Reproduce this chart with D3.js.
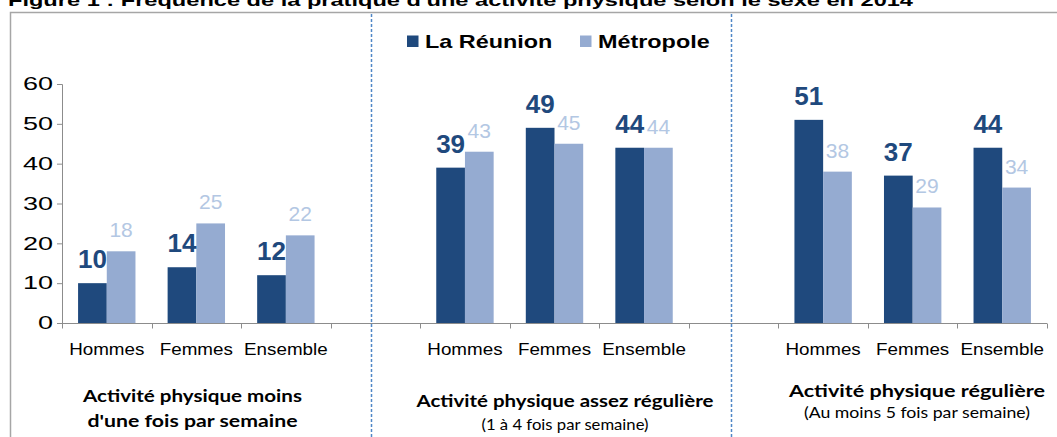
<!DOCTYPE html>
<html><head><meta charset="utf-8">
<script src="https://cdn.jsdelivr.net/npm/d3@7/dist/d3.min.js"></script>
<style>body{margin:0;background:#fff;overflow:hidden}</style>
</head><body><svg id="c" width="1057" height="437"></svg>
<script>
// ---- data ----
const titleText = "Figure 1 : Fréquence de la pratique d'une activité physique selon le sexe en 2014";
const subCategories = ["Hommes", "Femmes", "Ensemble"];
const seriesNames = ["La Réunion", "Métropole"];
const reunion   = [10, 14, 12, 39, 49, 44, 51, 37, 44];
const metropole = [18, 25, 22, 43, 45, 44, 38, 29, 34];
const yTicks = [0, 10, 20, 30, 40, 50, 60];
const groupTitles = [
  ["Activité physique moins", "d'une fois par semaine"],
  ["Activité physique assez régulière", "(1 à 4 fois par semaine)"],
  ["Activité physique  régulière", "(Au moins 5 fois par semaine)"]
];

// ---- style ----
const darkBar = "#1f497d", lightBar = "#95abd1", lightLabel = "#b3c7e3", axisCol = "#8c8c8c";
const svg = d3.select("#c");

function stretch(sel, k) {
  sel.each(function () {
    const w = this.getComputedTextLength();
    this.setAttribute("textLength", w * k);
    this.setAttribute("lengthAdjust", "spacingAndGlyphs");
  });
}
function fitWidth(sel, w) {
  sel.attr("textLength", w).attr("lengthAdjust", "spacingAndGlyphs");
}

// band domain: 3 groups of 3 categories, with an empty band between groups
const domain = [];
const rows = [];
groupTitles.forEach((g, gi) => {
  if (gi > 0) domain.push("gap" + gi);
  subCategories.forEach((s, si) => {
    const key = gi + "|" + s;
    domain.push(key);
    rows.push({key, label: s, r: reunion[gi * 3 + si], m: metropole[gi * 3 + si]});
  });
});

const x = d3.scaleBand().domain(domain).range([62, 1047]).paddingInner(0).paddingOuter(0);
const xs = d3.scaleBand().domain(seriesNames).range([0, x.bandwidth()]).paddingInner(0).paddingOuter(0.56);
const y = d3.scaleLinear().domain([0, 60]).range([323, 84]);

// title (cropped at the top, as in the source)
svg.append("text").attr("x", 8).attr("y", 6)
  .style("font", "bold 17px 'Liberation Sans', Arial, sans-serif").attr("fill", "#000")
  .text(titleText).call(fitWidth, 905);

// frame
svg.append("path").attr("d", "M10.5,437 V12.5 H1057").attr("fill", "none")
  .attr("stroke", "#a6a6a6").attr("stroke-width", 1.5);

// dashed separators
[371.5, 731.5].forEach(xx => {
  svg.append("line").attr("x1", xx).attr("x2", xx).attr("y1", 14).attr("y2", 437)
    .attr("stroke", "#4f86c6").attr("stroke-width", 1.5).attr("stroke-dasharray", "3,2");
});

// legend
const legend = svg.append("g");
const legendItems = [{name: seriesNames[0], c: darkBar, x: 407}, {name: seriesNames[1], c: lightBar, x: 580}];
legendItems.forEach(it => {
  legend.append("rect").attr("x", it.x).attr("y", 35.5).attr("width", 11.5).attr("height", 11.5).attr("fill", it.c);
  legend.append("text").attr("x", it.x + 18).attr("y", 48)
    .style("font", "bold 19px 'Liberation Sans', Arial, sans-serif").attr("fill", "#000")
    .text(it.name).call(stretch, 1.23);
});

// y axis
const yAxis = svg.append("g").attr("transform", "translate(62,0)")
  .call(d3.axisLeft(y).tickValues(yTicks).tickSize(5).tickPadding(4));
yAxis.select(".domain").attr("stroke", axisCol);
yAxis.selectAll(".tick line").attr("stroke", axisCol);
yAxis.selectAll("text").style("font", "18px 'Liberation Sans', Arial, sans-serif").attr("fill", "#000")
  .call(stretch, 1.5);

// x axis line + ticks at band boundaries
svg.append("line").attr("x1", 62).attr("x2", 1047).attr("y1", 323.5).attr("y2", 323.5).attr("stroke", axisCol);
const bounds = domain.map(d => x(d)).concat([x.range()[1]]);
svg.selectAll(".xt").data(bounds).join("line").attr("class", "xt")
  .attr("x1", d => Math.round(d) + 0.5).attr("x2", d => Math.round(d) + 0.5)
  .attr("y1", 323.5).attr("y2", 328.5).attr("stroke", axisCol);

// category labels
svg.selectAll(".cat").data(rows).join("text").attr("class", "cat")
  .attr("x", d => x(d.key) + x.bandwidth() / 2).attr("y", 355)
  .attr("text-anchor", "middle")
  .style("font", "16.5px 'Liberation Sans', Arial, sans-serif").attr("fill", "#000")
  .text(d => d.label).call(stretch, 1.14);

// bars
const g = svg.selectAll(".grp").data(rows).join("g").attr("class", "grp")
  .attr("transform", d => `translate(${x(d.key)},0)`);
g.append("rect").attr("x", xs(seriesNames[0])).attr("width", xs.bandwidth())
  .attr("y", d => y(d.r)).attr("height", d => y(0) - y(d.r)).attr("fill", darkBar);
g.append("rect").attr("x", xs(seriesNames[1])).attr("width", xs.bandwidth())
  .attr("y", d => y(d.m)).attr("height", d => y(0) - y(d.m)).attr("fill", lightBar);

// value labels
g.append("text").attr("x", xs(seriesNames[0]) + xs.bandwidth() / 2).attr("y", d => y(d.r) - 15)
  .attr("text-anchor", "middle").style("font", "bold 26px 'Liberation Sans', Arial, sans-serif")
  .attr("fill", darkBar).text(d => d.r);
g.append("text").attr("x", xs(seriesNames[1]) + xs.bandwidth() / 2).attr("y", d => y(d.m) - 14)
  .attr("text-anchor", "middle").style("font", "21px 'Liberation Sans', Arial, sans-serif")
  .attr("fill", lightLabel).text(d => d.m);

// group titles
const gt = [
  {cx: 192.5, y1: 402, w1: 219, y2: 427, w2: 210, bold2: true, f2: 17},
  {cx: 565, y1: 407, w1: 297, y2: 430, w2: 167, bold2: false, f2: 15},
  {cx: 917, y1: 397, w1: 256, y2: 418, w2: 226, bold2: false, f2: 15}
];
groupTitles.forEach((t, i) => {
  const p = gt[i];
  svg.append("text").attr("x", p.cx).attr("y", p.y1).attr("text-anchor", "middle")
    .style("font", "bold 17px Lato, 'Open Sans', sans-serif").attr("fill", "#000")
    .text(t[0]).call(fitWidth, p.w1);
  svg.append("text").attr("x", p.cx).attr("y", p.y2).attr("text-anchor", "middle")
    .style("font", (p.bold2 ? "bold " : "") + p.f2 + "px Lato, 'Open Sans', sans-serif").attr("fill", "#000")
    .text(t[1]).call(fitWidth, p.w2);
});
</script>
</body></html>
